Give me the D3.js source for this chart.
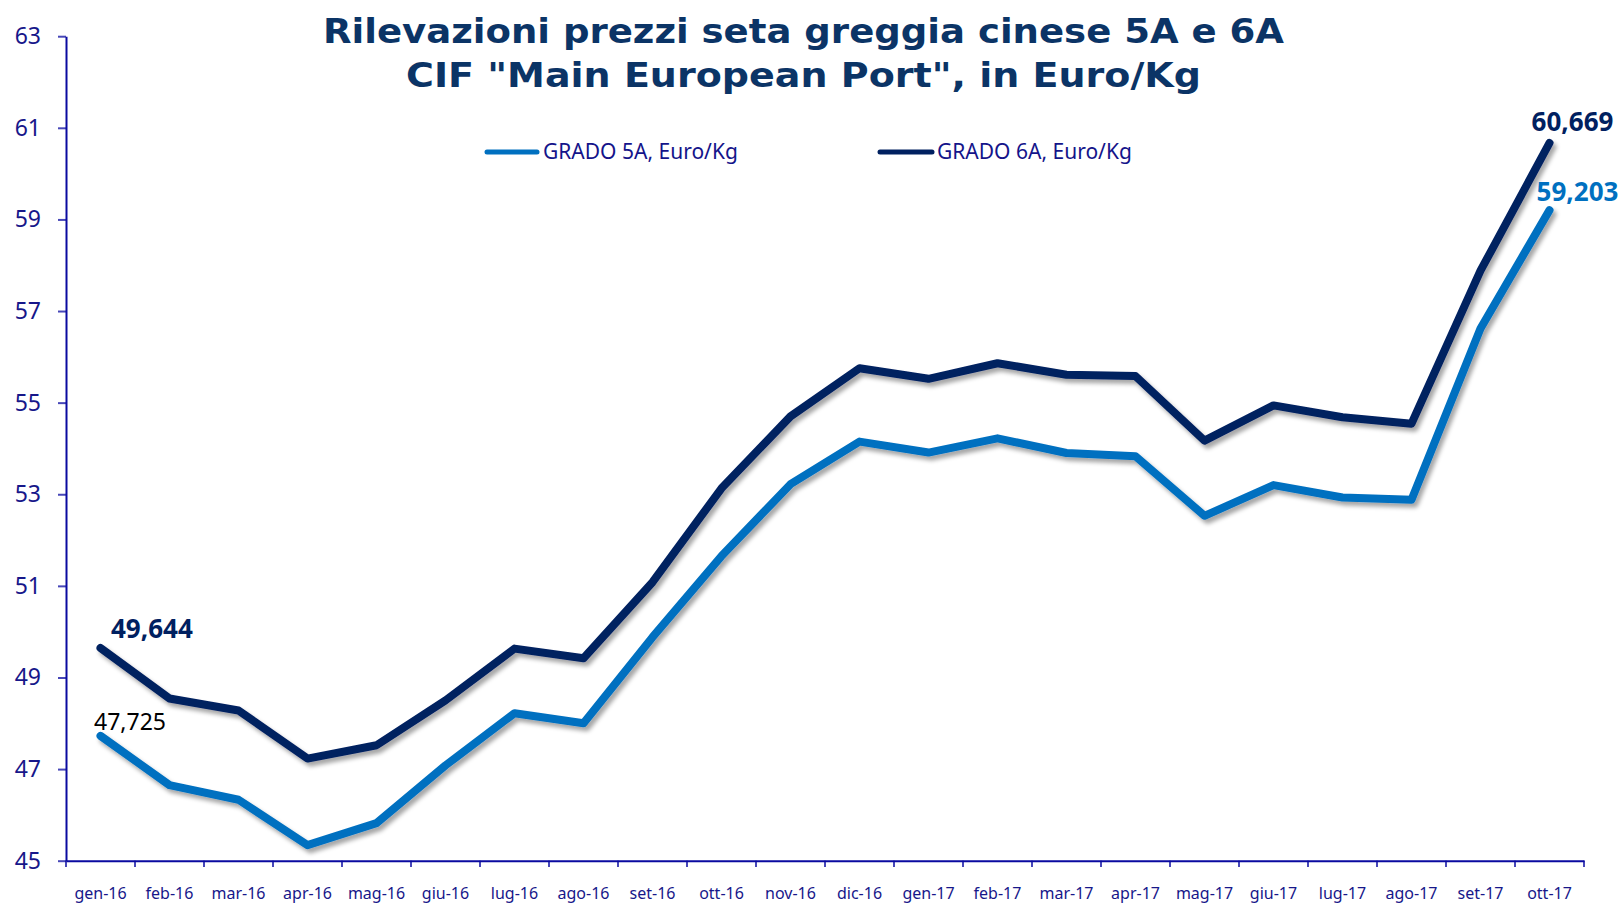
<!DOCTYPE html>
<html>
<head>
<meta charset="utf-8">
<script src="https://cdn.jsdelivr.net/npm/d3@7"></script>
<style>
  html, body { margin: 0; padding: 0; background: #ffffff; }
  svg { display: block; }
</style>
</head>
<body>
<script>
// ---- DATA ----
const categories = ["gen-16","feb-16","mar-16","apr-16","mag-16","giu-16","lug-16","ago-16","set-16","ott-16","nov-16","dic-16",
                    "gen-17","feb-17","mar-17","apr-17","mag-17","giu-17","lug-17","ago-17","set-17","ott-17"];
const grado5A = [47.725, 46.65, 46.33, 45.34, 45.82, 47.08, 48.22, 48.00, 49.88, 51.65, 53.22, 54.15,
                 53.91, 54.22, 53.90, 53.83, 52.53, 53.20, 52.93, 52.88, 56.62, 59.203];
const grado6A = [49.644, 48.54, 48.28, 47.23, 47.52, 48.50, 49.63, 49.42, 51.08, 53.13, 54.70, 55.75,
                 55.52, 55.86, 55.61, 55.58, 54.17, 54.94, 54.68, 54.54, 57.88, 60.669];
const yTicks = [45, 47, 49, 51, 53, 55, 57, 59, 61, 63];
const seriesNames = ["GRADO 5A, Euro/Kg", "GRADO 6A, Euro/Kg"];
const titleLines = ["Rilevazioni prezzi seta greggia cinese 5A e 6A", "CIF \"Main European Port\", in Euro/Kg"];

// ---- STYLE ----
const W = 1624, H = 905;
const C5 = "#0070c0", C6 = "#002060";
const AXIS = "#0a0aa0", TICKTXT = "#17178a", TITLE = "#0b3466";
const FONT = "'Noto Sans', 'Open Sans', sans-serif";

const svg = d3.select("body").append("svg").attr("width", W).attr("height", H);

const defs = svg.append("defs");
const f = defs.append("filter").attr("id", "shadow").attr("x", "-10%").attr("y", "-10%").attr("width", "120%").attr("height", "130%");
f.append("feDropShadow").attr("dx", 3).attr("dy", 4).attr("stdDeviation", 2)
  .attr("flood-color", "#000").attr("flood-opacity", 0.35);

const x = d3.scaleBand().domain(categories).range([66, 1584]).padding(0);
const y = d3.scaleLinear().domain([45, 63]).range([860.7, 36.2]);
const cx = d => x(d) + x.bandwidth() / 2;

// ---- Y AXIS ----
const yAxis = svg.append("g").attr("transform", "translate(66,0)")
  .call(d3.axisLeft(y).tickValues(yTicks).tickSize(8).tickSizeOuter(0).tickPadding(17).tickFormat(d3.format("d")));
yAxis.select(".domain").attr("stroke", AXIS).attr("stroke-width", 2);
yAxis.selectAll(".tick line").attr("stroke", AXIS).attr("stroke-width", 2).attr("stroke-opacity", 0.75);
yAxis.selectAll(".tick text").attr("fill", TICKTXT).style("font-family", FONT).style("font-size", "23px");

// ---- X AXIS ----
const xAxis = svg.append("g").attr("transform", "translate(0,860.7)")
  .call(d3.axisBottom(x).tickSize(0).tickPadding(27));
xAxis.select(".domain").attr("stroke", AXIS).attr("stroke-width", 2);
xAxis.selectAll(".tick text").attr("fill", TICKTXT).style("font-family", FONT).style("font-size", "16px");
// tick marks at category boundaries
const bounds = categories.map(c => x(c)).concat([x.range()[1]]);
svg.append("g").selectAll("line").data(bounds).join("line")
  .attr("x1", d => d).attr("x2", d => d).attr("y1", 860.7).attr("y2", 867)
  .attr("stroke", AXIS).attr("stroke-width", 2).attr("stroke-opacity", 0.75);

// ---- LINES ----
const line = d3.line().x((d, i) => cx(categories[i])).y(d => y(d));
[[grado5A, C5], [grado6A, C6]].forEach(([data, col]) => {
  svg.append("path").datum(data)
    .attr("d", line).attr("fill", "none").attr("stroke", col)
    .attr("stroke-width", 8).attr("stroke-linejoin", "round").attr("stroke-linecap", "round")
    .attr("filter", "url(#shadow)");
});

// ---- DATA LABELS ----
const it = d3.formatLocale({decimal: ",", thousands: ".", grouping: [3], currency: ["", "€"]}).format(".3f");
const last = categories.length - 1;
const lbl = (i, v, dx, dy, anchor, col, weight, size) =>
  svg.append("text").attr("x", cx(categories[i]) + dx).attr("y", y(v) + dy)
    .attr("text-anchor", anchor).attr("fill", col)
    .style("font-family", FONT).style("font-weight", weight).style("font-size", size + "px")
    .text(it(v));
lbl(0, grado6A[0], 10.5, -10, "start", C6, 700, 26);
lbl(0, grado5A[0], 29.5, -6, "middle", "#000000", 400, 23);
lbl(last, grado6A[last], 23, -11.7, "middle", C6, 700, 26);
lbl(last, grado5A[last], 28, -9.5, "middle", C5, 700, 26);

// ---- LEGEND ----
const legend = [[487, 537, 543, C5, seriesNames[0]], [880, 932, 937, C6, seriesNames[1]]];
legend.forEach(([x1, x2, tx, col, name]) => {
  svg.append("line").attr("x1", x1).attr("x2", x2).attr("y1", 152).attr("y2", 152)
    .attr("stroke", col).attr("stroke-width", 5).attr("stroke-linecap", "round");
  svg.append("text").attr("x", tx).attr("y", 159).attr("fill", "#14148a")
    .style("font-family", FONT).style("font-size", "21px").text(name);
});

// ---- TITLE ----
const tWidths = [961, 795];
titleLines.forEach((t, i) => {
  svg.append("text").attr("x", 803.5).attr("y", 43 + i * 44).attr("text-anchor", "middle")
    .attr("fill", TITLE).style("font-family", "'DejaVu Sans', Verdana, sans-serif")
    .style("font-weight", 700).style("font-size", "34px")
    .attr("textLength", tWidths[i]).attr("lengthAdjust", "spacingAndGlyphs")
    .text(t);
});
</script>
</body>
</html>
